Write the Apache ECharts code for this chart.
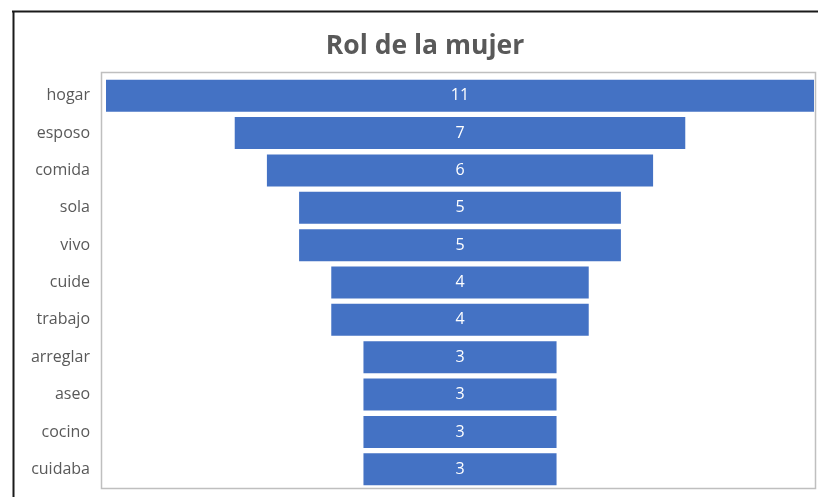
<!DOCTYPE html>
<html>
<head>
<meta charset="utf-8">
<script src="https://cdn.jsdelivr.net/npm/echarts@6/dist/echarts.min.js"></script>
<style>
  html, body { margin: 0; padding: 0; background: #fff; }
  #main { width: 818px; height: 497px; }
</style>
</head>
<body>
<div id="main"></div>
<script>
var categories = ['hogar', 'esposo', 'comida', 'sola', 'vivo', 'cuide', 'trabajo', 'arreglar', 'aseo', 'cocino', 'cuidaba'];
var values = [11, 7, 6, 5, 5, 4, 4, 3, 3, 3, 3];

var maxVal = Math.max.apply(null, values);
// invisible bars push each bar to the middle, like the Excel funnel
var offsets = values.map(function (v) { return (maxVal - v) / 2; });

var myChart = echarts.init(document.getElementById('main'));
var option = {
	animation: false,
	title: {
		text: 'Rol de la mujer',
		left: 420,
		textAlign: 'center',
		top: 28,
		textStyle: {
			fontFamily: 'Open Sans',
			fontSize: 26.5,
			fontWeight: 'bold',
			color: '#595959'
		}
	},
	grid: {
		left: 106,
		right: 4,
		top: 77,
		bottom: 9
	},
	xAxis: {
		type: 'value',
		min: 0,
		max: maxVal,
		show: false
	},
	yAxis: {
		type: 'category',
		data: categories,
		inverse: true,
		axisLine: { show: false },
		axisTick: { show: false },
		axisLabel: {
			margin: 16,
			fontFamily: 'Open Sans',
			fontSize: 16,
			color: '#595959'
		}
	},
	series: [{
		name: 'offset',
		type: 'bar',
		stack: 'f',
		barWidth: 32,
		itemStyle: { color: 'transparent' },
		silent: true,
		data: offsets
	}, {
		name: 'Rol de la mujer',
		type: 'bar',
		stack: 'f',
		barWidth: 32,
		itemStyle: { color: '#4472c4' },
		label: {
			show: true,
			position: 'inside',
			fontFamily: 'Open Sans',
			fontSize: 16,
			color: '#ffffff'
		},
		data: values
	}],
	graphic: [{
		// plot area frame
		type: 'rect',
		shape: { x: 101.5, y: 72.5, width: 714, height: 416 },
		style: { fill: null, stroke: '#bfbfbf', lineWidth: 1.5 },
		silent: true
	}, {
		type: 'line',
		shape: { x1: 12, y1: 11.5, x2: 818, y2: 11.5 },
		style: { stroke: '#1a1a1a', lineWidth: 2 }
	}, {
		type: 'line',
		shape: { x1: 13.5, y1: 11, x2: 13.5, y2: 497 },
		style: { stroke: '#1a1a1a', lineWidth: 2 }
	}]
};
myChart.setOption(option);
window.onresize = function () { myChart.resize(); };
</script>
</body>
</html>
